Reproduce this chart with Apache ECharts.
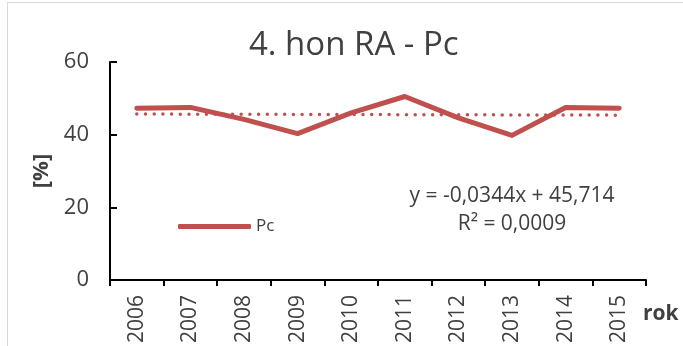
<!DOCTYPE html>
<html>
<head>
<meta charset="utf-8">
<script src="https://cdn.jsdelivr.net/npm/echarts@6/dist/echarts.min.js"></script>
<style>
  html, body { margin: 0; padding: 0; background: #fff; overflow: hidden; }
  #frame { position: absolute; left: 7px; top: 2px; width: 700px; height: 360px; border: 1px solid #d9d9d9; }
  #myChart { position: absolute; left: 0; top: 0; width: 683px; height: 346px; }
</style>
</head>
<body>
<div id="frame"></div>
<div id="myChart"></div>
<script>
var years = ['2006', '2007', '2008', '2009', '2010', '2011', '2012', '2013', '2014', '2015'];
var pcValues = [47.3, 47.5, 44.2, 40.3, 46.0, 50.5, 44.6, 39.8, 47.5, 47.3];
// linear trend y = -0,0344x + 45,714 at x = 1..10
var trendValues = [45.680, 45.645, 45.611, 45.576, 45.542, 45.508, 45.473, 45.439, 45.404, 45.370];
var yTicks = [0, 20, 40, 60];

var font = '"Open Sans", sans-serif';
var textColor = '#404040';
var lineColor = '#C0504D';

var option = {
    animation: false,
    title: {
        text: '4. hon RA - Pc',
        left: 244,
        top: 24,
        textStyle: { fontFamily: font, fontSize: 33, fontWeight: 'normal', color: textColor }
    },
    legend: {
        left: 178,
        top: 218,
        padding: 0,
        itemWidth: 73,
        itemHeight: 5,
        itemGap: 6,
        data: [{ name: 'Pc', icon: 'roundRect' }],
        textStyle: { fontFamily: font, fontSize: 17, color: textColor }
    },
    grid: { left: 110, right: 37, top: 62, bottom: 64 },
    xAxis: {
        type: 'category',
        data: years,
        boundaryGap: true,
        name: 'rok',
        nameLocation: 'end',
        nameGap: -3,
        nameTextStyle: { fontFamily: font, fontSize: 21, fontWeight: 'bold', color: textColor, verticalAlign: 'top', padding: [24, 0, 0, 0] },
        axisLine: { lineStyle: { color: '#000', width: 2 } },
        axisTick: { show: true, inside: false, length: 6, lineStyle: { color: '#000', width: 2 } },
        axisLabel: { rotate: 90, margin: 15, fontFamily: font, fontSize: 21, color: textColor },
        splitLine: { show: false }
    },
    yAxis: {
        type: 'value',
        min: 0,
        max: 60,
        interval: 20,
        name: '[%]',
        nameLocation: 'middle',
        nameGap: 57,
        nameRotate: 90,
        nameTextStyle: { fontFamily: font, fontSize: 22, fontWeight: 'bold', color: textColor },
        axisLine: { show: true, lineStyle: { color: '#000', width: 2 } },
        axisTick: { show: true, inside: true, length: 7, lineStyle: { color: '#000', width: 2 } },
        axisLabel: {
            margin: 21, fontFamily: font, fontSize: 22, color: textColor,
            formatter: function (v) { return yTicks.indexOf(v) >= 0 ? String(v) : ''; }
        },
        splitLine: { show: false }
    },
    graphic: [
        {
            type: 'text', x: 512, y: 196, z: 10,
            style: { text: 'y = -0,0344x + 45,714', font: '21px ' + font, fill: textColor, align: 'center', verticalAlign: 'middle' }
        },
        {
            type: 'text', x: 512, y: 224, z: 10,
            style: { text: 'R² = 0,0009', font: '21px ' + font, fill: textColor, align: 'center', verticalAlign: 'middle' }
        }
    ],
    series: [
        {
            name: 'trend',
            type: 'line',
            data: trendValues,
            symbol: 'none',
            silent: true,
            lineStyle: { color: lineColor, width: 3.5, type: [0, 8.7], cap: 'round' },
            z: 1
        },
        {
            name: 'Pc',
            type: 'line',
            data: pcValues,
            symbol: 'none',
            lineStyle: { color: lineColor, width: 5, cap: 'round', join: 'round' },
            itemStyle: { color: lineColor },
            z: 2
        }
    ]
};

var myChart = echarts.init(document.getElementById('myChart'));
myChart.setOption(option);
</script>
</body>
</html>
